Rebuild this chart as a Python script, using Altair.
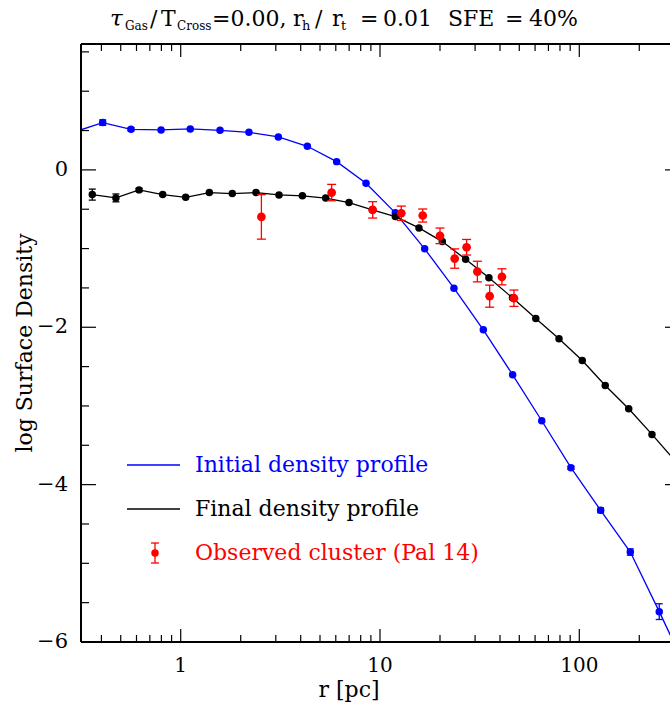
import altair as alt
import pandas as pd

# ---------------- data ----------------
init_r = [0.290, 0.406, 0.563, 0.797, 1.117, 1.575, 2.20, 3.09, 4.32, 6.06, 8.51, 11.94,
          16.76, 23.5, 33.0, 46.3, 64.8, 90.8, 128.0, 180.3, 251.9, 353.0]
init_y = [0.48, 0.601, 0.516, 0.508, 0.521, 0.503, 0.478, 0.419, 0.300, 0.105, -0.170, -0.546,
          -1.003, -1.504, -2.032, -2.604, -3.188, -3.785, -4.327, -4.857, -5.614, -6.40]
init_err = [0.0, 0.035, 0.02, 0.0, 0.0, 0.0, 0.0, 0.0, 0.0, 0.0, 0.0, 0.0,
            0.0, 0.0, 0.0, 0.0, 0.0, 0.02, 0.03, 0.04, 0.10, 0.12]

final_r = [0.360, 0.473, 0.618, 0.812, 1.059, 1.392, 1.815, 2.387, 3.113, 4.08, 5.34, 6.99,
           9.15, 11.94, 15.69, 20.54, 26.9, 35.2, 46.2, 60.5, 79.1, 103.5, 135.0, 177.0,
           231.6, 303.0]
final_y = [-0.314, -0.356, -0.254, -0.314, -0.348, -0.288, -0.301, -0.288, -0.318, -0.330,
           -0.358, -0.415, -0.508, -0.593, -0.737, -0.911, -1.136, -1.372, -1.626, -1.889,
           -2.147, -2.422, -2.740, -3.036, -3.362, -3.70]
final_err = [0.07, 0.05, 0.02, 0.0, 0.0, 0.0, 0.0, 0.0, 0.0, 0.0, 0.0, 0.0,
             0.0, 0.0, 0.0, 0.0, 0.0, 0.0, 0.0, 0.0, 0.0, 0.0, 0.0, 0.0, 0.0, 0.0]

obs_r = [2.54, 5.72, 9.19, 12.79, 16.38, 20.0, 23.7, 27.2, 30.8, 35.5, 40.9, 47.0]
obs_y = [-0.597, -0.288, -0.508, -0.551, -0.580, -0.838, -1.127, -0.983, -1.292, -1.605,
         -1.359, -1.631]
obs_err = [0.283, 0.104, 0.104, 0.091, 0.083, 0.099, 0.123, 0.099, 0.131, 0.14, 0.102, 0.104]

x_major = [1, 10, 100]
x_minor = [0.4, 0.5, 0.6, 0.7, 0.8, 0.9, 2, 3, 4, 5, 6, 7, 8, 9,
           20, 30, 40, 50, 60, 70, 80, 90, 200]
y_major = [-6, -4, -2, 0]
y_minor = [-5.5, -5, -4.5, -3.5, -3, -2.5, -1.5, -1, -0.5, 0.5, 1, 1.5]

legend_labels = ["Initial density profile", "Final density profile", "Observed cluster (Pal 14)"]

# ---------------- layout ----------------
W, H = 589, 598
LEFT, TOP = 81, 44
FONT = "DejaVu Serif"
BLUE, BLACK, RED = "#0000ff", "#000000", "#ff0000"

xs = alt.Scale(type="log", domain=[0.316, 285.2], nice=False)
ys = alt.Scale(domain=[-6, 1.6], nice=False, zero=False)


def frame(df):
    return alt.Chart(pd.DataFrame(df))


def series_df(r, y, e):
    return pd.DataFrame({"r": r, "y": y,
                         "lo": [a - b for a, b in zip(y, e)],
                         "hi": [a + b for a, b in zip(y, e)],
                         "e": e})


init_df = series_df(init_r, init_y, init_err)
final_df = series_df(final_r, final_y, final_err)
obs_df = series_df(obs_r, obs_y, obs_err)

X = lambda f: alt.X(f"{f}:Q", scale=xs, axis=None, title=None)
Y = lambda f: alt.Y(f"{f}:Q", scale=ys, axis=None, title=None)

layers = []


def series(df, color, size, cap, with_line=True):
    out = []
    if with_line:
        out.append(alt.Chart(df).mark_line(color=color, strokeWidth=1.3, clip=True)
                   .encode(x=X("r"), y=Y("y")))
    eb = alt.Chart(df).transform_filter("datum.e > 0")
    out.append(eb.mark_rule(color=color, strokeWidth=1.3, clip=True)
               .encode(x=X("r"), y=Y("lo"), y2="hi:Q"))
    out.append(eb.mark_tick(color=color, orient="horizontal", size=cap, thickness=1.3,
                            clip=True, opacity=1).encode(x=X("r"), y=Y("lo")))
    out.append(eb.mark_tick(color=color, orient="horizontal", size=cap, thickness=1.3,
                            clip=True, opacity=1).encode(x=X("r"), y=Y("hi")))
    out.append(alt.Chart(df).mark_circle(color=color, size=size, opacity=1, clip=True)
               .encode(x=X("r"), y=Y("y")))
    return out


layers += series(init_df, BLUE, 56, 7)
layers += series(final_df, BLACK, 56, 7)
layers += series(obs_df, RED, 76, 9, with_line=False)

# ---------------- frame & ticks ----------------
one = frame({"a": [0]})
layers.append(one.mark_rule(color="black", strokeWidth=2).encode(
    x=alt.value(0), y=alt.value(0), y2=alt.value(H)))
layers.append(one.mark_rule(color="black", strokeWidth=2).encode(
    x=alt.value(0), x2=alt.value(W), y=alt.value(0)))
layers.append(one.mark_rule(color="black", strokeWidth=2).encode(
    x=alt.value(0), x2=alt.value(W), y=alt.value(H)))

ymaj = frame({"v": y_major, "lab": [str(v).replace("-", "\u2212") for v in y_major]})
ymin = frame({"v": y_minor})
xmaj = frame({"v": x_major, "lab": [str(v) for v in x_major]})
xmin = frame({"v": x_minor})
TK = dict(color="black", strokeWidth=1.2)
layers += [
    ymaj.mark_rule(**TK).encode(y=Y("v"), x=alt.value(0), x2=alt.value(15)),
    ymin.mark_rule(**TK).encode(y=Y("v"), x=alt.value(0), x2=alt.value(8)),
    ymaj.mark_rule(**TK).encode(y=Y("v"), x=alt.value(W - 5), x2=alt.value(W)),
    xmaj.mark_rule(**TK).encode(x=X("v"), y=alt.value(0), y2=alt.value(13)),
    xmin.mark_rule(**TK).encode(x=X("v"), y=alt.value(0), y2=alt.value(7)),
    xmaj.mark_rule(**TK).encode(x=X("v"), y=alt.value(H - 13), y2=alt.value(H)),
    xmin.mark_rule(**TK).encode(x=X("v"), y=alt.value(H - 7), y2=alt.value(H)),
]

# tick labels
layers.append(xmaj.mark_text(font=FONT, fontSize=20, color="black", align="center",
                             baseline="middle").encode(
    x=X("v"), y=alt.value(666 - TOP), text="lab:N"))
layers.append(ymaj.mark_text(font=FONT, fontSize=21, color="black", align="right",
                             baseline="middle").encode(
    y=Y("v"), x=alt.value(68 - LEFT), text="lab:N"))

# ---------------- axis titles ----------------
layers.append(one.mark_text(text="r [pc]", font=FONT, fontSize=22, color="black",
                            align="center", baseline="middle").encode(
    x=alt.value(349 - LEFT), y=alt.value(690 - TOP)))
layers.append(one.mark_text(text="log Surface Density", font=FONT, fontSize=22, color="black",
                            align="center", baseline="middle", angle=270).encode(
    x=alt.value(25 - LEFT), y=alt.value(343 - TOP)))

# ---------------- legend ----------------
leg_y = [465 - TOP, 509 - TOP, 553 - TOP]
layers.append(one.mark_rule(color=BLUE, strokeWidth=1.3).encode(
    x=alt.value(127 - LEFT), x2=alt.value(180 - LEFT), y=alt.value(leg_y[0])))
layers.append(one.mark_rule(color=BLACK, strokeWidth=1.3).encode(
    x=alt.value(127 - LEFT), x2=alt.value(180 - LEFT), y=alt.value(leg_y[1])))
layers.append(one.mark_rule(color=RED, strokeWidth=1.3).encode(
    x=alt.value(155 - LEFT), y=alt.value(leg_y[2] - 10), y2=alt.value(leg_y[2] + 10)))
for dy in (-10, 10):
    layers.append(one.mark_rule(color=RED, strokeWidth=1.3).encode(
        x=alt.value(151 - LEFT), x2=alt.value(159 - LEFT), y=alt.value(leg_y[2] + dy)))
layers.append(one.mark_circle(color=RED, size=56, opacity=1).encode(
    x=alt.value(155 - LEFT), y=alt.value(leg_y[2])))
for lab, col, yy in zip(legend_labels, [BLUE, BLACK, RED], leg_y):
    layers.append(one.mark_text(text=lab, font=FONT, fontSize=22, color=col,
                                align="left", baseline="middle").encode(
        x=alt.value(195 - LEFT), y=alt.value(yy)))

# ---------------- title with subscripts ----------------
MAIN_BL, SUB_BL = 25.5 - TOP, 30 - TOP
title_parts = [
    ("τ", 110, 23, MAIN_BL, "italic"), ("Gas", 125, 12, SUB_BL, "normal"),
    ("/", 150, 22, MAIN_BL, "normal"), ("T", 161, 22, MAIN_BL, "normal"),
    ("Cross", 177, 12, SUB_BL, "normal"), ("=0.00,", 212, 22, MAIN_BL, "normal"),
    ("r", 293, 22, MAIN_BL, "normal"), ("h", 302, 13, SUB_BL, "normal"),
    ("/", 315, 22, MAIN_BL, "normal"), ("r", 332, 22, MAIN_BL, "normal"),
    ("t", 341, 13, SUB_BL, "normal"), ("=", 360, 22, MAIN_BL, "normal"),
    ("0.01", 383, 22, MAIN_BL, "normal"), ("SFE", 448, 22, MAIN_BL, "normal"),
    ("=", 505, 22, MAIN_BL, "normal"), ("40%", 529, 22, MAIN_BL, "normal"),
]
for txt, px, fs, bl, st in title_parts:
    layers.append(one.mark_text(text=txt, font=FONT, fontSize=fs, fontStyle=st, color="black",
                                align="left", baseline="alphabetic").encode(
        x=alt.value(px - LEFT), y=alt.value(bl)))

chart = alt.layer(*layers).properties(
    width=W, height=H,
    padding={"left": LEFT, "top": TOP, "right": 0, "bottom": 62},
    autosize=alt.AutoSizeParams(type="none"),
    background="white",
).configure_view(stroke=None)

chart.save("out.html", embed_options={"renderer": "svg", "actions": False})
